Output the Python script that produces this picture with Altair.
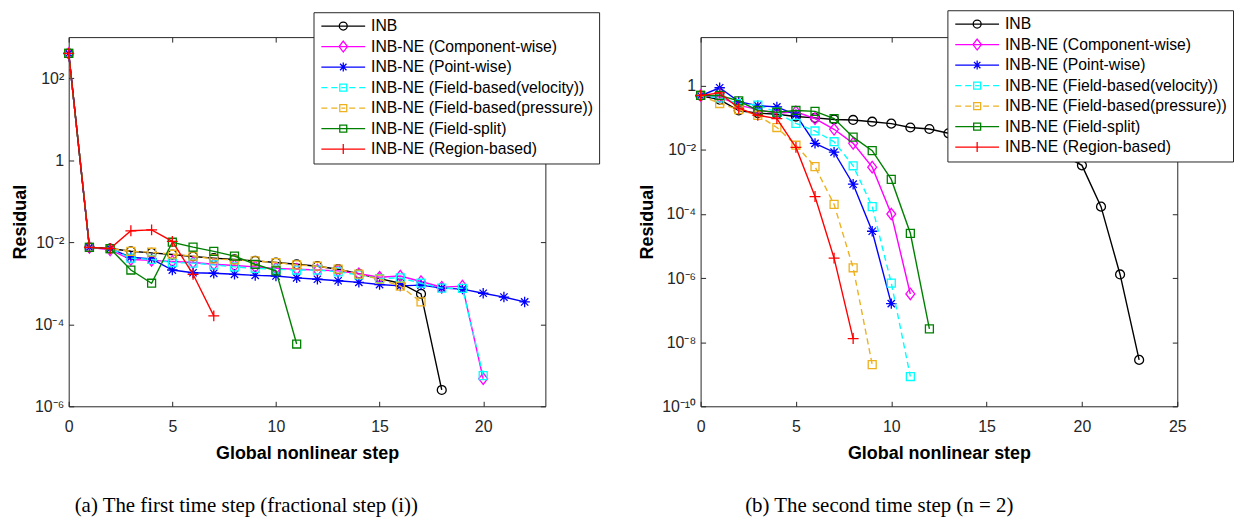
import altair as alt
import pandas as pd

SERIES = ["INB", "INB-NE (Component-wise)", "INB-NE (Point-wise)",
          "INB-NE (Field-based(velocity))", "INB-NE (Field-based(pressure))",
          "INB-NE (Field-split)", "INB-NE (Region-based)"]
COLORS = ["#000000", "#FF00FF", "#0000FF", "#00FFFF", "#EDB120", "#008000", "#FF0000"]
DASHED = [False, False, False, True, True, False, False]

# (a) first time step — residual per global nonlinear step (step 0, 1, 2, ...)
inb_a = [400, 7.5e-3, 7e-3, 6e-3, 5.5e-3, 5e-3, 4.5e-3, 4.1e-3, 3.8e-3, 3.5e-3,
         3.2e-3, 2.9e-3, 2.6e-3, 2.2e-3, 1.7e-3, 1.3e-3, 1.0e-3, 5.5e-4, 2.5e-6]
comp_a = [400, 7.5e-3, 6.5e-3, 3.8e-3, 3.6e-3, 3.4e-3, 3.2e-3, 2.9e-3, 2.7e-3, 2.5e-3,
          2.3e-3, 2.2e-3, 2.1e-3, 2.0e-3, 1.7e-3, 1.4e-3, 1.5e-3, 1.1e-3, 8e-4, 8.5e-4, 4.7e-6]
point_a = [400, 7.5e-3, 7e-3, 4.3e-3, 3.9e-3, 2.1e-3, 1.8e-3, 1.75e-3, 1.65e-3, 1.55e-3,
           1.5e-3, 1.35e-3, 1.25e-3, 1.15e-3, 1.05e-3, 9.3e-4, 8.6e-4, 9.0e-4, 7.6e-4, 7.2e-4,
           5.7e-4, 4.6e-4, 3.5e-4]
vel_a = [400, 7.5e-3, 7e-3, 4.1e-3, 3.8e-3, 3.2e-3, 3.1e-3, 2.8e-3, 2.5e-3, 2.3e-3,
         2.2e-3, 2.1e-3, 2.1e-3, 1.9e-3, 1.6e-3, 1.3e-3, 1.35e-3, 1.0e-3, 7.6e-4, 7.5e-4, 5.6e-6]
pres_a = [400, 7.5e-3, 7e-3, 6e-3, 5.7e-3, 5.1e-3, 4.6e-3, 3.9e-3, 3.7e-3, 3.5e-3,
          3.2e-3, 2.8e-3, 2.6e-3, 2.2e-3, 1.66e-3, 1.26e-3, 8.5e-4, 3.5e-4]
split_a = [400, 7.5e-3, 7e-3, 2.1e-3, 1.0e-3, 1.0e-2, 7.6e-3, 6e-3, 4.6e-3, 2.9e-3, 2.0e-3, 3.3e-5]
region_a = [400, 7.5e-3, 7e-3, 1.9e-2, 2e-2, 1.05e-2, 1.65e-3, 1.6e-4]

# (b) second time step
inb_b = [0.49, 0.37, 0.17, 0.14, 0.13, 0.11, 0.10, 0.089, 0.086, 0.076, 0.066, 0.05,
         0.045, 0.033, 0.028, 0.023, 0.019, 0.015, 0.011, 7e-3, 3.3e-3, 1.7e-4, 1.3e-6, 2.8e-9]
comp_b = [0.5, 0.45, 0.25, 0.18, 0.14, 0.155, 0.095, 0.044, 0.016, 2.9e-3, 1e-4, 3.2e-7]
point_b = [0.49, 0.87, 0.32, 0.24, 0.22, 0.125, 0.016, 8.5e-3, 8.5e-4, 2.9e-5, 1.6e-7]
vel_b = [0.5, 0.42, 0.28, 0.25, 0.15, 0.067, 0.039, 0.018, 3.2e-3, 1.7e-4, 7e-7, 8.5e-10]
pres_b = [0.5, 0.28, 0.18, 0.12, 0.05, 0.014, 3e-3, 2e-4, 2.1e-6, 2e-9]
split_b = [0.5, 0.5, 0.34, 0.17, 0.15, 0.17, 0.16, 0.095, 0.025, 9.5e-3, 1.2e-3, 2.5e-5, 2.6e-8]
region_b = [0.5, 0.6, 0.2, 0.12, 0.095, 0.012, 3.5e-4, 4.2e-6, 1.3e-8]

XTICKS_A = [0, 5, 10, 15, 20]
XTICKS_B = [0, 5, 10, 15, 20, 25]
YTICKS_A = [1e-6, 1e-4, 1e-2, 1, 1e2]
YTICKS_B = [1e-10, 1e-8, 1e-6, 1e-4, 1e-2, 1]

# marker glyphs (unit square) and legend glyphs (line + marker)
MARKERS = ["circle", "M0,-1.1L0.85,0L0,1.1L-0.85,0Z",
           "M-1,0L1,0M0,-1L0,1M-0.7,-0.7L0.7,0.7M-0.7,0.7L0.7,-0.7",
           "square", "square", "square", "M-1,0L1,0M0,-1L0,1"]
MSIZES = [80, 110, 110, 64, 64, 64, 120]
DASHLINE = "M-4.4,0L-3.2,0M-2.4,0L-1.2,0M-0.4,0L0.4,0M1.2,0L2.4,0M3.2,0L4.4,0"
SQ = "M-0.7,-0.7L0.7,-0.7L0.7,0.7L-0.7,0.7Z"
LEG_PATHS = [
    "M-4.4,0L4.4,0M0.8,0A0.8,0.8 0 1,1 -0.8,0A0.8,0.8 0 1,1 0.8,0",
    "M-4.4,0L4.4,0M0,-1.1L0.85,0L0,1.1L-0.85,0Z",
    "M-4.4,0L4.4,0M0,-0.9L0,0.9M-0.65,-0.65L0.65,0.65M-0.65,0.65L0.65,-0.65",
    DASHLINE + SQ,
    DASHLINE + SQ,
    "M-4.4,0L4.4,0" + SQ,
    "M-4.4,0L4.4,0M0,-1L0,1",
]

LABEL_EXPR = ("datum.value == 1 ? '1' : '10' + replace(replace(replace(replace(replace(replace(replace("
              "'' + round(log(datum.value) / LN10), '-', '⁻'), '1', '¹'), '0', '⁰'), '2', '²'), "
              "'4', '⁴'), '6', '⁶'), '8', '⁸')")

AXIS_COLOR = "#262626"
FONT = "Liberation Sans"


def make_df(lists):
    rows = []
    for name, vals in zip(SERIES, lists):
        for step, v in enumerate(vals):
            rows.append({"series": name, "step": step, "residual": v})
    return pd.DataFrame(rows)


def panel(df, xdom, xticks, ydom, yticks, lx, ly, caption, dx):
    xs = alt.Scale(domain=xdom, nice=False, zero=False)
    ys = alt.Scale(type="log", domain=ydom, nice=False)
    xaxis = alt.Axis(values=xticks, title="Global nonlinear step", domain=False, grid=False,
                     offset=-5, tickSize=5, labelPadding=12, titlePadding=10, format="d",
                     labelFlush=False)
    yaxis = alt.Axis(values=yticks, title="Residual", domain=False, grid=False,
                     offset=-5, tickSize=5, labelPadding=5, titlePadding=5,
                     labelExpr=LABEL_EXPR)
    layers = []
    for i, name in enumerate(SERIES):
        base = alt.Chart(df).transform_filter(alt.datum.series == name)
        kw = dict(color=COLORS[i], strokeWidth=1.4)
        if DASHED[i]:
            kw["strokeDash"] = [6, 4]
        line = base.mark_line(**kw).encode(
            x=alt.X("step:Q", scale=xs, axis=xaxis if i == 0 else None),
            y=alt.Y("residual:Q", scale=ys, axis=yaxis if i == 0 else None),
        )
        pts = base.mark_point(shape=MARKERS[i], size=MSIZES[i], color=COLORS[i],
                              filled=False, strokeWidth=1.3, opacity=1).encode(
            x=alt.X("step:Q", scale=xs, axis=None),
            y=alt.Y("residual:Q", scale=ys, axis=None),
        )
        layers += [line, pts]

    leg = alt.Legend(title=None, orient="none", legendX=lx, legendY=ly, direction="vertical",
                     labelFont=FONT, labelFontSize=15.8, labelColor="black", labelLimit=500,
                     labelOffset=20, symbolOffset=16, symbolSize=100, symbolStrokeWidth=1.3,
                     symbolOpacity=1, rowPadding=3.6, padding=6, strokeColor="#262626",
                     fillColor="white", cornerRadius=0)
    legend_layer = alt.Chart(df).mark_point(opacity=0, filled=False).encode(
        x=alt.X("step:Q", scale=xs, axis=None),
        y=alt.Y("residual:Q", scale=ys, axis=None),
        color=alt.Color("series:N", scale=alt.Scale(domain=SERIES, range=COLORS), legend=leg),
        shape=alt.Shape("series:N", scale=alt.Scale(domain=SERIES, range=LEG_PATHS), legend=leg),
    )
    tick_layer = alt.Chart(df).mark_point(opacity=0).encode(
        x=alt.X("step:Q", scale=xs, axis=alt.Axis(orient="top", values=xticks, labels=False,
                                                   title=None, domain=False, grid=False,
                                                   offset=-5, tickSize=5)),
        y=alt.Y("residual:Q", scale=ys, axis=alt.Axis(orient="right", values=yticks, labels=False,
                                                       title=None, domain=False, grid=False,
                                                       offset=-5, tickSize=5)),
    )
    return alt.layer(*layers, legend_layer, tick_layer).resolve_axis(
        x="independent", y="independent"
    ).properties(
        width=479, height=371,
        title=alt.TitleParams(caption, orient="bottom", anchor="middle", frame="group", dx=dx,
                              offset=33, font="Liberation Serif", fontSize=21,
                              fontWeight="normal", color="black"),
    )


df_a = make_df([inb_a, comp_a, point_a, vel_a, pres_a, split_a, region_a])
df_b = make_df([inb_b, comp_b, point_b, vel_b, pres_b, split_b, region_b])

left = panel(df_a, [0, 23], XTICKS_A, [1e-6, 1e3], YTICKS_A, 246, -25,
             "(a)  The first time step (fractional step (i))", -61)
right = panel(df_b, [0, 25], XTICKS_B, [1e-10, 10 ** 1.52], YTICKS_B, 248, -27,
              "(b)  The second time step (n = 2)", -60)

chart = alt.hconcat(left, right, spacing=38).resolve_scale(
    color="independent", shape="independent"
).resolve_legend(color="independent", shape="independent").properties(
    padding={"left": 2, "top": 0, "right": 0, "bottom": 0}
).configure_view(stroke=AXIS_COLOR, strokeWidth=1).configure_axis(
    labelFont=FONT, labelFontSize=16, labelColor=AXIS_COLOR, tickColor=AXIS_COLOR,
    titleFont=FONT, titleFontSize=18, titleFontWeight="bold", titleColor="black",
)

chart.save("out.html", embed_options={"renderer": "svg", "actions": False})
